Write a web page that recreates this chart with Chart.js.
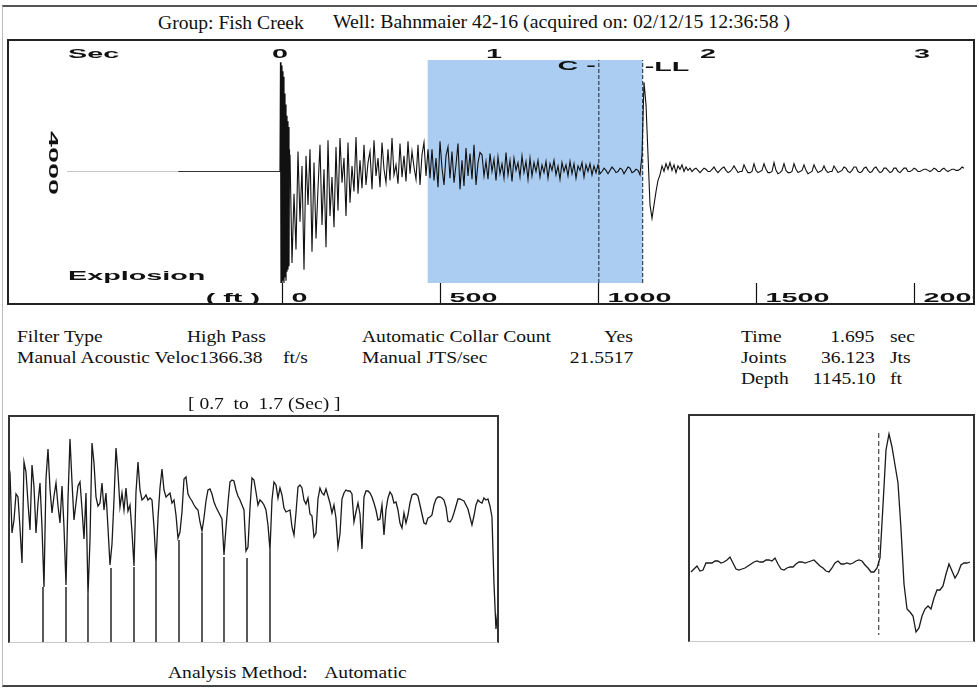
<!DOCTYPE html>
<html>
<head>
<meta charset="utf-8">
<script src="https://cdn.jsdelivr.net/npm/chart.js@4.4.1/dist/chart.umd.min.js"></script>
<style>
  html, body { margin: 0; padding: 0; background: #fff; }
  #page { position: relative; width: 979px; height: 690px; overflow: hidden; background: #fff;
          font-family: "Liberation Serif", "Times New Roman", serif; color: #111; }
  .frame { position: absolute; left: 2px; top: 5px; width: 975px; height: 682px; box-sizing: border-box;
           border-top: 2px solid #555; border-bottom: 2px solid #444; border-left: 1px solid #bbb; }
  .holder { position: absolute; }
  .edge { position: absolute; box-sizing: border-box; pointer-events: none; }
  canvas { display: block; }
  .t { position: absolute; white-space: pre; line-height: 1; }
</style>
</head>
<body>
<div id="page">
  <div class="frame"></div>
  <div class="holder" style="left:7px;top:39px;"><canvas id="topChart" width="968" height="266"></canvas></div>
  <div class="edge" style="left:7px;top:39px;width:968px;height:266px;border:2px solid #222;"></div>
  <div class="holder" style="left:8px;top:415px;"><canvas id="windowChart" width="491" height="228"></canvas></div>
  <div class="edge" style="left:8px;top:415px;width:491px;height:228px;border:2px solid #333;border-bottom:1px solid #c8c8c8;"></div>
  <div class="holder" style="left:688px;top:414px;"><canvas id="echoChart" width="287" height="228"></canvas></div>
  <div class="edge" style="left:688px;top:414px;width:287px;height:228px;border:2px solid #333;border-bottom:1px solid #c8c8c8;"></div>
</div>
<script>
// ---- report values ----
const groupName = 'Fish Creek';
const wellName = 'Bahnmaier 42-16';
const acquiredOn = '02/12/15 12:36:58';
const velocity = '1366.38';
const jtsPerSec = '21.5517';
const timeSec = '1.695';
const jointCount = '36.123';
const depthFt = '1145.10';

// ---- top trace (seconds / amplitude %) ----
const secTicks = [0, 1, 2, 3];
const ftTicks = [0, 500, 1000, 1500, 2000];
const idleFaint = [-0.995, -0.476];
const idleDark = [-0.476, 0];
const windowStart = 0.69, windowEnd = 1.695;
const collarMark = 1.49, liquidLevel = 1.695;

const burstStart = 0, burstStep = 0.002336;
const burstAmp = [0, 98, -100, 95, -100, 90, -98, 85, -100, 70, -95, 60, -98, 50, -90, 45, -88, 40, -85, 20];

const traceStart = 0.04673, traceStep = 0.009346;
const ringdown = [
  15, -82, -20, -70, 18, -45, 5, -88, 14, -30, 20, -72,
  8, -60, -15, 24, -48, 2, -68, 28, -40, -5, -50, 22,
  -35, 30, -10, 12, -40, 26, -28, 5, -18, 31, -20, 10,
  -15, 24, -12, 8, 18, -16, 28, -4, 12, -14, 26, 2, -10, 20, -8, 30, -3, 6, -11, 25,
  -5, 14, -9, 27, -2, 18, 4, -7, 24, -12, 15, 26, -4, 20
];
const windowRing = [
  -6, 20, -8, 12, -14, 27, 3, -12, 14, 22, -6, 18, -10, 6, 25, -16, 10, -13, 21, -4, 16, -7, 24, -12, 8, 17,
  15, -4, 9, -7, 16, 0, 11, -8, 13, -2, 7, -6, 17, -3, 10, -9, 12, 1, 8, -5, 14, -1, 9, -7, 12,
  -4, 8, 0, 10, -5, 6, -1, 9, -6, 7, 1, 10, -3, 5, -7, 8, 0, 6, -4, 9, -2, 7, -6, 5, 1, 8, -5, 6, 0, 7, -3, 5, -1, 6,
  -2, 0, 3, 1, -2, 1, 4, 2, -1, 0, 3, 2, -2, 1, 4, 3, -1, 0, 2, 1, -3
];
const echo = [
  15, 80, 60, 15, -30, -42, -30, -18, -8, -3, 5,
  0, 7, 2, 8, 1, 6, -1, 5, 2, 6, 0, 4, 1, 3
];
const ripple = [
  0, 2, 3, 1, -1, 1, 3, 2, 0, 0, 2, 4, 1, -1, 1, 3, 4, 1, -1, 0, 2, 5, 2, -1, 0,
  0, 6, 2, -1, -1, 0, 7, 1, -1, 0, 1, 7, 2, -1, -1, 0, 8, 1, -2, -1, 1, 7, 1, -1, -1,
  0, 7, 2, -1, 0, 1, 6, 1, -2, -1, 0, 6, 2, -1, 0, 1, 5, 1, -1, 0, 0, 5, 2, -1, 0,
  1, 4, 3, 0, -1, 1, 4, 4, 0, -1, 0, 3, 4, 1, -1, 0, 3, 4, 1, -1, 0, 3, 3, 1, -1,
  0, 3, 3, 0, -1, 1, 3, 3, 0, 0, 1, 3, 2, 0, 0, 1, 2, 2, 1, 0, 1, 3, 2, 0, 0,
  2, 3, 1, 0, 1, 2, 2, 1, 1, 2, 4, 3
];

// ---- window trace 0.7 to 1.7 s ----
const windowFrom = 0.7, windowTo = 1.7, windowStep = 0.004073;
const windowTrace = [
  67, 56, -4, 9, 35, 32, 1, -34, 67, 57, 26, -1, 64, 42, -4, 26, 46, 2, -58, 50,
  80, 40, 16, 33, 46, 23, 6, 43, 2, -56, 30, 90, 47, 9, 26, 43, 47, 20, -10, 36,
  -66, -11, 86, 66, 32, 23, 26, 46, 19, 36, 1, -36, -15, 29, 81, 56, 22, 36, 19, 41,
  18, 24, -3, -37, 37, 67, 39, 29, 31, 34, 29, 31, 29, 2, -34, 11, 41, 60, 39, 32,
  34, 36, 26, 29, 14, -9, -3, 17, 50, 52, 35, 31, 28, 24, 21, 19, 7, -2, 11, 28,
  39, 40, 35, 27, 22, 18, 14, 10, -26, 1, 26, 47, 49, 48, 39, 33, 29, 24, 19, -22,
  -18, 21, 51, 49, 37, 24, 29, 27, 24, 19, 4, -21, 29, 47, 44, 31, 41, 34, 21, 17,
  18, 19, 2, -6, 16, 42, 44, 41, 29, 25, 31, 15, 13, -8, -4, 30, 41, 36, 34, 40,
  33, 26, 16, 24, 11, -18, -5, 30, 36, 39, 38, 38, 35, 7, 17, 26, 15, -20, 32, 38,
  38, 36, 32, 26, 19, 9, 10, 24, -6, 19, 31, 37, 34, 26, 27, 19, 6, 1, 16, 6,
  14, 26, 34, 35, 35, 33, 24, 15, 6, 5, 11, 12, 14, 24, 30, 32, 32, 31, 29, 22,
  8, 7, 10, 16, 23, 30, 30, 29, 28, 24, 20, 12, 4, 13, 24, 29, 27, 26, 31, 29,
  30, 23, 12, -54, -100, -80
];
const collarTimes = [0.7713, 0.8181, 0.8629, 0.9098, 0.9566, 1.0014, 1.0483, 1.0951, 1.1399, 1.1868, 1.2336];
const collarTroughs = [-58, -58, -66, -39, -38, -34, -11, -4, -28, -29, -21];

// ---- liquid level echo close-up ----
const echoFrom = 1.465, echoTo = 1.811;
const echoStart = 1.4686, echoStep = 0.003617;
const echoTrace = [
  -44, -41, -38, -43, -42, -35, -35, -35, -33, -33,
  -35, -34, -32, -29, -35, -41, -42, -41, -40, -38,
  -36, -34, -33, -34, -34, -32, -32, -33, -30, -36,
  -41, -42, -40, -39, -39, -36, -34, -34, -35, -34,
  -33, -32, -35, -38, -40, -43, -44, -40, -35, -33,
  -36, -36, -35, -36, -35, -33, -32, -33, -37, -40,
  -44, -44, -40, -30, 23, 78, 94, 81, 63, 45,
  -1, -56, -81, -84, -88, -104, -100, -88, -81, -78,
  -81, -70, -62, -62, -58, -46, -36, -43, -50, -45,
  -37, -35, -35, -34
];

// ---- helpers ----
const page = document.getElementById('page');
function put(text, x, base, size, opts) {
  opts = opts || {};
  const s = document.createElement('span');
  s.className = 't';
  s.textContent = text;
  s.style.fontSize = size + 'px';
  s.style.top = (base - 0.8375 * size) + 'px';
  if (opts.right) { s.style.right = (979 - x) + 'px'; s.style.transformOrigin = 'right center'; }
  else { s.style.left = x + 'px'; s.style.transformOrigin = 'left center'; }
  s.style.transform = 'scaleX(' + (opts.sx || 1) + ')';
  page.appendChild(s);
}
const series = (arr, start, step) => arr.map((v, i) => ({ x: start + i * step, y: v }));

const STRETCH = 2.3;
function wideText(ctx, text, x, y, align) {
  ctx.save();
  ctx.font = 'bold 12.5px "Liberation Sans", Arial, sans-serif';
  ctx.fillStyle = '#111';
  const w = ctx.measureText(text).width * STRETCH;
  const left = align === 'right' ? x - w : align === 'center' ? x - w / 2 : x;
  ctx.translate(left, y);
  ctx.scale(STRETCH, 1);
  ctx.textAlign = 'left';
  ctx.textBaseline = 'middle';
  ctx.fillText(text, 0, 0);
  ctx.restore();
}

// ---- header & report text ----
put('Group: ' + groupName, 158, 29, 19.6);
put('Well: ' + wellName + ' (acquired on: ' + acquiredOn + ' )', 333, 29, 19.8);

const SX = 1.15;
put('Filter Type', 17, 342, 17, { sx: SX });
put('High Pass', 187, 342, 17, { sx: SX });
put('Automatic Collar Count', 362, 342, 17, { sx: SX });
put('Yes', 633, 342, 17, { sx: SX, right: true });
put('Time', 741, 342, 17, { sx: SX });
put(timeSec, 874, 342, 17, { sx: SX, right: true });
put('sec', 890, 342, 17, { sx: SX });

put('Manual Acoustic Veloc' + velocity, 17, 363, 17, { sx: SX });
put('ft/s', 283, 363, 17, { sx: SX });
put('Manual JTS/sec', 362, 363, 17, { sx: SX });
put(jtsPerSec, 633, 363, 17, { sx: SX, right: true });
put('Joints', 741, 363, 17, { sx: SX });
put(jointCount, 875, 363, 17, { sx: SX, right: true });
put('Jts', 890, 363, 17, { sx: SX });

put('Depth', 741, 384, 17, { sx: SX });
put(depthFt, 876, 384, 17, { sx: SX, right: true });
put('ft', 890, 384, 17, { sx: SX });

put('[ ' + windowFrom + '  to  ' + windowTo + ' (Sec) ]', 188, 409, 17, { sx: SX });
put('Analysis Method:', 168, 678, 17, { sx: SX });
put('Automatic', 407, 678, 17, { sx: SX, right: true });

// ---- top chart ----
const topDecor = {
  id: 'topDecor',
  beforeDatasetsDraw(chart) {
    const { ctx, chartArea: a, scales: { x } } = chart;
    const x0 = x.getPixelForValue(windowStart), x1 = x.getPixelForValue(windowEnd);
    ctx.save();
    ctx.fillStyle = '#abcdf1';
    ctx.fillRect(x0, a.top, x1 - x0, a.bottom - a.top);
    ctx.restore();
  },
  afterDatasetsDraw(chart) {
    const { ctx, chartArea: a, scales: { x, ft } } = chart;
    wideText(ctx, 'Sec', 61, 16, 'left');
    secTicks.forEach(s => wideText(ctx, String(s), x.getPixelForValue(s), 16, 'center'));
    ctx.save();
    ctx.beginPath();
    ctx.rect(0, 0, chart.width - 2, chart.height);
    ctx.clip();
    ctx.strokeStyle = '#111';
    ctx.lineWidth = 1.2;
    ftTicks.forEach(f => {
      const px = Math.round(ft.getPixelForValue(f)) + 0.5;
      ctx.beginPath();
      ctx.moveTo(px, a.bottom);
      ctx.lineTo(px, chart.height);
      ctx.stroke();
      wideText(ctx, String(f), px + 9, 260, 'left');
    });
    ctx.restore();
    wideText(ctx, '( ft )', 253, 260, 'right');
    wideText(ctx, 'Explosion', 61, 238, 'left');
    wideText(ctx, 'C -', x.getPixelForValue(collarMark) - 3, 28, 'right');
    wideText(ctx, '-LL', x.getPixelForValue(liquidLevel) + 2, 29, 'left');
    ctx.save();
    ctx.translate(45, 124);
    ctx.rotate(Math.PI / 2);
    wideText(ctx, '4000', 0, 0, 'center');
    ctx.restore();
  }
};

const lineDs = (data, color, width, extra) => Object.assign({
  data, borderColor: color, borderWidth: width, pointRadius: 0, tension: 0, fill: false
}, extra || {});

new Chart(document.getElementById('topChart'), {
  type: 'line',
  data: {
    datasets: [
      lineDs(idleFaint.map(t => ({ x: t, y: 0 })), '#c6c6c6', 1),
      lineDs(idleDark.map(t => ({ x: t, y: 0 })), '#333', 1.2),
      lineDs(series(burstAmp, burstStart, burstStep), '#111', 1.2),
      lineDs(series([...ringdown, ...windowRing, ...echo, ...ripple], traceStart, traceStep), '#111', 1.1),
      lineDs([{ x: collarMark, y: -100 }, { x: collarMark, y: 100 }], '#222', 1, { borderDash: [4, 2] }),
      lineDs([{ x: liquidLevel, y: -100 }, { x: liquidLevel, y: 100 }], '#222', 1, { borderDash: [4, 2] })
    ]
  },
  options: {
    responsive: false,
    animation: false,
    layout: { padding: { top: 21, bottom: 22, left: 0, right: 0 } },
    scales: {
      x: { type: 'linear', min: -1.2757, max: 3.2477, display: false },
      ft: { type: 'linear', axis: 'x', position: 'bottom', min: -870.3, max: 2193, display: false },
      y: { type: 'linear', min: -100, max: 100, display: false }
    },
    plugins: { legend: { display: false }, tooltip: { enabled: false } }
  },
  plugins: [topDecor]
});

// ---- window chart ----
const collarLines = [];
collarTimes.forEach((t, i) => {
  collarLines.push({ x: t, y: collarTroughs[i] }, { x: t, y: -114 }, { x: t, y: null });
});

new Chart(document.getElementById('windowChart'), {
  type: 'line',
  data: {
    datasets: [
      lineDs(series(windowTrace, windowFrom, windowStep), '#1a1a1a', 1.3),
      lineDs(collarLines, '#444', 1, { spanGaps: false })
    ]
  },
  options: {
    responsive: false,
    animation: false,
    layout: { padding: 0 },
    scales: {
      x: { type: 'linear', min: windowFrom, max: windowTo, display: false },
      y: { type: 'linear', min: -114, max: 114, display: false }
    },
    plugins: { legend: { display: false }, tooltip: { enabled: false } }
  }
});

// ---- echo chart ----
new Chart(document.getElementById('echoChart'), {
  type: 'line',
  data: {
    datasets: [
      lineDs(series(echoTrace, echoStart, echoStep), '#1a1a1a', 1.3),
      lineDs([{ x: liquidLevel, y: 95 }, { x: liquidLevel, y: -107 }], '#222', 1, { borderDash: [5, 3] })
    ]
  },
  options: {
    responsive: false,
    animation: false,
    layout: { padding: 0 },
    scales: {
      x: { type: 'linear', min: echoFrom, max: echoTo, display: false },
      y: { type: 'linear', min: -114, max: 114, display: false }
    },
    plugins: { legend: { display: false }, tooltip: { enabled: false } }
  }
});
</script>
</body>
</html>
